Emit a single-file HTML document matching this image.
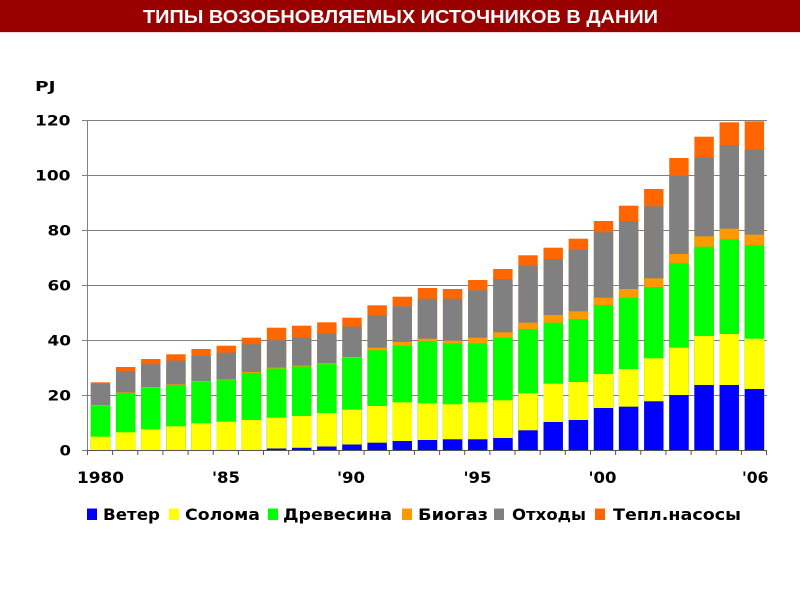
<!DOCTYPE html>
<html><head><meta charset="utf-8"><style>
html,body{margin:0;padding:0;background:#fff;}
svg{display:block;}
.h{fill:#FF6600}.t{fill:#808080}.g{fill:#FF9900}.w{fill:#00FF00}.s{fill:#FFFF00}.b{fill:#0000FF}
.ax{font-family:"DejaVu Sans","Liberation Sans",sans-serif;font-weight:bold;fill:#000;}
</style></head><body>
<svg width="800" height="600" viewBox="0 0 800 600" xmlns="http://www.w3.org/2000/svg">
<rect x="0" y="0" width="800" height="600" fill="#fff"/>
<rect x="0" y="0" width="800" height="32" fill="#990000"/>
<line x1="0" y1="32.5" x2="800" y2="32.5" stroke="#f0d8d8" stroke-width="1"/>
<text x="143" y="23" font-family="Liberation Sans, Arial, sans-serif" font-weight="bold" font-size="18" fill="#fff" textLength="515" lengthAdjust="spacingAndGlyphs">ТИПЫ ВОЗОБНОВЛЯЕМЫХ ИСТОЧНИКОВ В ДАНИИ</text>

<text class="ax" x="35" y="91" font-size="13" textLength="20.5" lengthAdjust="spacingAndGlyphs">PJ</text>

<!-- gridlines -->
<g stroke="#808080" stroke-width="1">
<line x1="82" y1="120.5" x2="767" y2="120.5"/>
<line x1="82" y1="175.5" x2="767" y2="175.5"/>
<line x1="82" y1="230.5" x2="767" y2="230.5"/>
<line x1="82" y1="285.5" x2="767" y2="285.5"/>
<line x1="82" y1="340.5" x2="767" y2="340.5"/>
<line x1="82" y1="395.5" x2="767" y2="395.5"/>
<line x1="82" y1="450.5" x2="767" y2="450.5"/>
<line x1="87.5" y1="120" x2="87.5" y2="451"/>
</g>

<!-- y labels -->
<g class="ax" font-size="14">
<text x="35" y="125.5" textLength="35.5" lengthAdjust="spacingAndGlyphs">120</text>
<text x="35" y="180.5" textLength="35.5" lengthAdjust="spacingAndGlyphs">100</text>
<text x="47.5" y="235.5" textLength="23.5" lengthAdjust="spacingAndGlyphs">80</text>
<text x="47.5" y="290.5" textLength="23.5" lengthAdjust="spacingAndGlyphs">60</text>
<text x="47.5" y="345.5" textLength="23.5" lengthAdjust="spacingAndGlyphs">40</text>
<text x="47.5" y="400.5" textLength="23.5" lengthAdjust="spacingAndGlyphs">20</text>
<text x="59.5" y="455.5" textLength="11.5" lengthAdjust="spacingAndGlyphs">0</text>
</g>

<!-- bars: each segment drawn from its top down to baseline, painter's order -->
<g transform="translate(90.8,0)"><rect class="h" y="382.3" width="19.4" height="67.7"/><rect class="t" y="384" width="19.4" height="66"/><rect class="g" y="405" width="19.4" height="45"/><rect class="w" y="405.8" width="19.4" height="44.2"/><rect class="s" y="436.7" width="19.4" height="13.3"/></g>
<g transform="translate(115.95,0)"><rect class="h" y="367" width="19.4" height="83"/><rect class="t" y="371" width="19.4" height="79"/><rect class="g" y="392.5" width="19.4" height="57.5"/><rect class="w" y="393.2" width="19.4" height="56.8"/><rect class="s" y="432.3" width="19.4" height="17.7"/></g>
<g transform="translate(141.1,0)"><rect class="h" y="359" width="19.4" height="91"/><rect class="t" y="364.3" width="19.4" height="85.7"/><rect class="g" y="387" width="19.4" height="63"/><rect class="w" y="387.9" width="19.4" height="62.1"/><rect class="s" y="429.3" width="19.4" height="20.7"/></g>
<g transform="translate(166.25,0)"><rect class="h" y="354.3" width="19.4" height="95.7"/><rect class="t" y="360.7" width="19.4" height="89.3"/><rect class="g" y="384.4" width="19.4" height="65.6"/><rect class="w" y="385.2" width="19.4" height="64.8"/><rect class="s" y="426.3" width="19.4" height="23.7"/></g>
<g transform="translate(191.4,0)"><rect class="h" y="349" width="19.4" height="101"/><rect class="t" y="356" width="19.4" height="94"/><rect class="g" y="381" width="19.4" height="69"/><rect class="w" y="381.9" width="19.4" height="68.1"/><rect class="s" y="423.3" width="19.4" height="26.7"/></g>
<g transform="translate(216.55,0)"><rect class="h" y="345.7" width="19.4" height="104.3"/><rect class="t" y="352.7" width="19.4" height="97.3"/><rect class="g" y="379.4" width="19.4" height="70.6"/><rect class="w" y="380.2" width="19.4" height="69.8"/><rect class="s" y="421.7" width="19.4" height="28.3"/></g>
<g transform="translate(241.7,0)"><rect class="h" y="337.7" width="19.4" height="112.3"/><rect class="t" y="344.3" width="19.4" height="105.7"/><rect class="g" y="372" width="19.4" height="78"/><rect class="w" y="372.9" width="19.4" height="77.1"/><rect class="s" y="420" width="19.4" height="30"/></g>
<g transform="translate(266.85,0)"><rect class="h" y="327.7" width="19.4" height="122.3"/><rect class="t" y="340.3" width="19.4" height="109.7"/><rect class="g" y="367.6" width="19.4" height="82.4"/><rect class="w" y="368.5" width="19.4" height="81.5"/><rect class="s" y="417.7" width="19.4" height="32.3"/><rect class="b" y="448.5" width="19.4" height="1.5"/></g>
<g transform="translate(292,0)"><rect class="h" y="325.7" width="19.4" height="124.3"/><rect class="t" y="337.7" width="19.4" height="112.3"/><rect class="g" y="365.6" width="19.4" height="84.4"/><rect class="w" y="366.5" width="19.4" height="83.5"/><rect class="s" y="416" width="19.4" height="34"/><rect class="b" y="447.8" width="19.4" height="2.2"/></g>
<g transform="translate(317.15,0)"><rect class="h" y="322.3" width="19.4" height="127.7"/><rect class="t" y="333.7" width="19.4" height="116.3"/><rect class="g" y="363.2" width="19.4" height="86.8"/><rect class="w" y="364.2" width="19.4" height="85.8"/><rect class="s" y="413" width="19.4" height="37"/><rect class="b" y="446.5" width="19.4" height="3.5"/></g>
<g transform="translate(342.3,0)"><rect class="h" y="317.7" width="19.4" height="132.3"/><rect class="t" y="326.7" width="19.4" height="123.3"/><rect class="g" y="357" width="19.4" height="93"/><rect class="w" y="358" width="19.4" height="92"/><rect class="s" y="409.7" width="19.4" height="40.3"/><rect class="b" y="444.5" width="19.4" height="5.5"/></g>
<g transform="translate(367.45,0)"><rect class="h" y="305.3" width="19.4" height="144.7"/><rect class="t" y="315.3" width="19.4" height="134.7"/><rect class="g" y="347.7" width="19.4" height="102.3"/><rect class="w" y="350.3" width="19.4" height="99.7"/><rect class="s" y="406" width="19.4" height="44"/><rect class="b" y="442.7" width="19.4" height="7.3"/></g>
<g transform="translate(392.6,0)"><rect class="h" y="296.7" width="19.4" height="153.3"/><rect class="t" y="306.3" width="19.4" height="143.7"/><rect class="g" y="342" width="19.4" height="108"/><rect class="w" y="345.7" width="19.4" height="104.3"/><rect class="s" y="402.3" width="19.4" height="47.7"/><rect class="b" y="441" width="19.4" height="9"/></g>
<g transform="translate(417.75,0)"><rect class="h" y="288" width="19.4" height="162"/><rect class="t" y="298.7" width="19.4" height="151.3"/><rect class="g" y="338.7" width="19.4" height="111.3"/><rect class="w" y="341.3" width="19.4" height="108.7"/><rect class="s" y="403.3" width="19.4" height="46.7"/><rect class="b" y="440" width="19.4" height="10"/></g>
<g transform="translate(442.9,0)"><rect class="h" y="289" width="19.4" height="161"/><rect class="t" y="298.7" width="19.4" height="151.3"/><rect class="g" y="340.7" width="19.4" height="109.3"/><rect class="w" y="343.3" width="19.4" height="106.7"/><rect class="s" y="404.3" width="19.4" height="45.7"/><rect class="b" y="439.3" width="19.4" height="10.7"/></g>
<g transform="translate(468.05,0)"><rect class="h" y="280" width="19.4" height="170"/><rect class="t" y="290.3" width="19.4" height="159.7"/><rect class="g" y="337.7" width="19.4" height="112.3"/><rect class="w" y="343.3" width="19.4" height="106.7"/><rect class="s" y="402.3" width="19.4" height="47.7"/><rect class="b" y="439.3" width="19.4" height="10.7"/></g>
<g transform="translate(493.2,0)"><rect class="h" y="269" width="19.4" height="181"/><rect class="t" y="279" width="19.4" height="171"/><rect class="g" y="332.3" width="19.4" height="117.7"/><rect class="w" y="337.7" width="19.4" height="112.3"/><rect class="s" y="400.3" width="19.4" height="49.7"/><rect class="b" y="438" width="19.4" height="12"/></g>
<g transform="translate(518.35,0)"><rect class="h" y="255.3" width="19.4" height="194.7"/><rect class="t" y="265.7" width="19.4" height="184.3"/><rect class="g" y="322.7" width="19.4" height="127.3"/><rect class="w" y="329" width="19.4" height="121"/><rect class="s" y="393.3" width="19.4" height="56.7"/><rect class="b" y="430.3" width="19.4" height="19.7"/></g>
<g transform="translate(543.5,0)"><rect class="h" y="247.7" width="19.4" height="202.3"/><rect class="t" y="259" width="19.4" height="191"/><rect class="g" y="315" width="19.4" height="135"/><rect class="w" y="322.7" width="19.4" height="127.3"/><rect class="s" y="383.7" width="19.4" height="66.3"/><rect class="b" y="422" width="19.4" height="28"/></g>
<g transform="translate(568.65,0)"><rect class="h" y="238.7" width="19.4" height="211.3"/><rect class="t" y="249.7" width="19.4" height="200.3"/><rect class="g" y="311.3" width="19.4" height="138.7"/><rect class="w" y="319" width="19.4" height="131"/><rect class="s" y="382" width="19.4" height="68"/><rect class="b" y="420" width="19.4" height="30"/></g>
<g transform="translate(593.8,0)"><rect class="h" y="221" width="19.4" height="229"/><rect class="t" y="232.3" width="19.4" height="217.7"/><rect class="g" y="297.7" width="19.4" height="152.3"/><rect class="w" y="305" width="19.4" height="145"/><rect class="s" y="374" width="19.4" height="76"/><rect class="b" y="408" width="19.4" height="42"/></g>
<g transform="translate(618.95,0)"><rect class="h" y="205.7" width="19.4" height="244.3"/><rect class="t" y="221" width="19.4" height="229"/><rect class="g" y="289" width="19.4" height="161"/><rect class="w" y="297.7" width="19.4" height="152.3"/><rect class="s" y="369" width="19.4" height="81"/><rect class="b" y="406.7" width="19.4" height="43.3"/></g>
<g transform="translate(644.1,0)"><rect class="h" y="189" width="19.4" height="261"/><rect class="t" y="206.3" width="19.4" height="243.7"/><rect class="g" y="278.3" width="19.4" height="171.7"/><rect class="w" y="287" width="19.4" height="163"/><rect class="s" y="358.3" width="19.4" height="91.7"/><rect class="b" y="401.3" width="19.4" height="48.7"/></g>
<g transform="translate(669.25,0)"><rect class="h" y="158" width="19.4" height="292"/><rect class="t" y="175.7" width="19.4" height="274.3"/><rect class="g" y="254" width="19.4" height="196"/><rect class="w" y="263.3" width="19.4" height="186.7"/><rect class="s" y="347.7" width="19.4" height="102.3"/><rect class="b" y="395" width="19.4" height="55"/></g>
<g transform="translate(694.4,0)"><rect class="h" y="136.7" width="19.4" height="313.3"/><rect class="t" y="157.3" width="19.4" height="292.7"/><rect class="g" y="236.3" width="19.4" height="213.7"/><rect class="w" y="246.7" width="19.4" height="203.3"/><rect class="s" y="336" width="19.4" height="114"/><rect class="b" y="385" width="19.4" height="65"/></g>
<g transform="translate(719.55,0)"><rect class="h" y="122.3" width="19.4" height="327.7"/><rect class="t" y="145" width="19.4" height="305"/><rect class="g" y="228.7" width="19.4" height="221.3"/><rect class="w" y="239.3" width="19.4" height="210.7"/><rect class="s" y="334" width="19.4" height="116"/><rect class="b" y="385" width="19.4" height="65"/></g>
<g transform="translate(744.7,0)"><rect class="h" y="121.3" width="19.4" height="328.7"/><rect class="t" y="149.7" width="19.4" height="300.3"/><rect class="g" y="234.7" width="19.4" height="215.3"/><rect class="w" y="245.3" width="19.4" height="204.7"/><rect class="s" y="338.7" width="19.4" height="111.3"/><rect class="b" y="389" width="19.4" height="61"/></g>

<!-- x axis line and ticks -->
<g stroke="#555" stroke-width="1">
<line x1="87" y1="450.5" x2="767" y2="450.5"/>
<path d="M87.5 450v5M112.6 450v5M137.8 450v5M162.9 450v5M188.1 450v5M213.2 450v5M238.4 450v5M263.5 450v5M288.7 450v5M313.8 450v5M339 450v5M364.1 450v5M389.3 450v5M414.4 450v5M439.6 450v5M464.7 450v5M489.9 450v5M515 450v5M540.2 450v5M565.3 450v5M590.5 450v5M615.6 450v5M640.8 450v5M665.9 450v5M691.1 450v5M716.2 450v5M741.4 450v5M766.5 450v5"/>
</g>

<!-- x labels -->
<g class="ax" font-size="16">
<text x="77" y="483" textLength="47" lengthAdjust="spacingAndGlyphs">1980</text>
<text x="212" y="483" textLength="28" lengthAdjust="spacingAndGlyphs">'85</text>
<text x="337" y="483" textLength="28" lengthAdjust="spacingAndGlyphs">'90</text>
<text x="463.5" y="483" textLength="28" lengthAdjust="spacingAndGlyphs">'95</text>
<text x="588.5" y="483" textLength="28" lengthAdjust="spacingAndGlyphs">'00</text>
<text x="742" y="483" textLength="26.5" lengthAdjust="spacingAndGlyphs">'06</text>
</g>

<!-- legend -->
<rect class="b" x="87" y="508.5" width="10" height="11.5"/>
<rect class="s" x="169" y="508.5" width="10" height="11.5"/>
<rect class="w" x="268" y="508.5" width="10" height="11.5"/>
<rect class="g" x="402" y="508.5" width="10" height="11.5"/>
<rect class="t" x="494" y="508.5" width="10" height="11.5"/>
<rect class="h" x="595" y="508.5" width="10" height="11.5"/>
<g class="ax" font-size="16">
<text x="103" y="520" textLength="57" lengthAdjust="spacingAndGlyphs">Ветер</text>
<text x="185" y="520" textLength="75" lengthAdjust="spacingAndGlyphs">Солома</text>
<text x="283" y="520" textLength="109" lengthAdjust="spacingAndGlyphs">Древесина</text>
<text x="418" y="520" textLength="70" lengthAdjust="spacingAndGlyphs">Биогаз</text>
<text x="512" y="520" textLength="74" lengthAdjust="spacingAndGlyphs">Отходы</text>
<text x="613" y="520" textLength="128" lengthAdjust="spacingAndGlyphs">Тепл.насосы</text>
</g>
</svg>
</body></html>
